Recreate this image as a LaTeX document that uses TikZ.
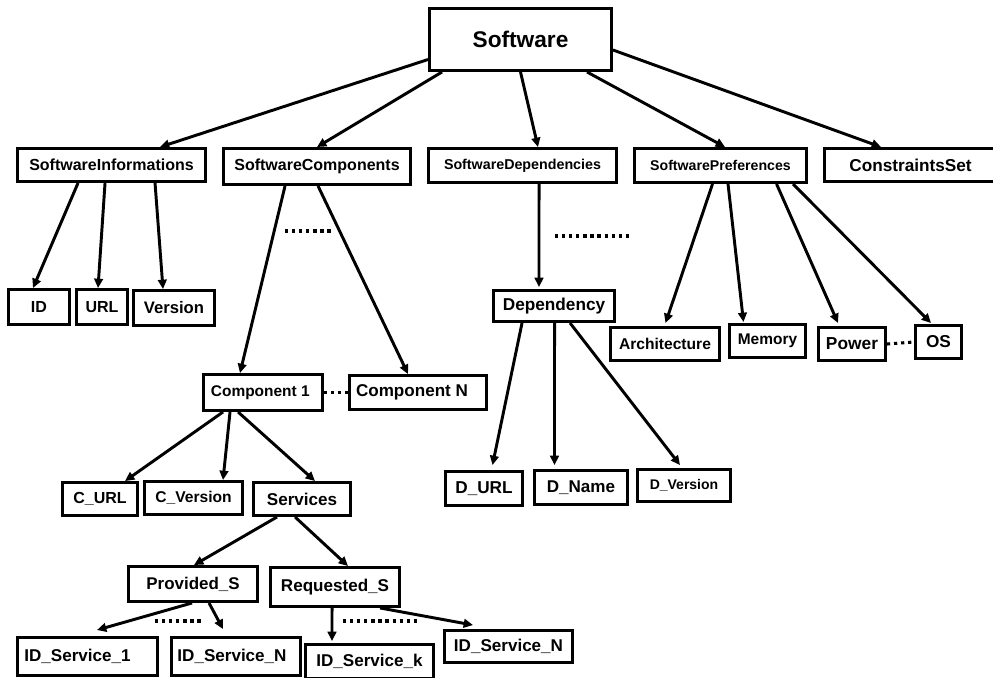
\documentclass[tikz,border=0pt]{standalone}
\usepackage{fontspec}
\setmainfont{Liberation Sans}
\usepackage{tikz}
\usetikzlibrary{arrows.meta,calc}
\tikzset{%
  tipS/.tip={Triangle[length=7pt,width=6.5pt]},
  box/.style={draw, line width=2.2pt, inner sep=0pt, fill=white},
  sz/.style 2 args={minimum width=(#1-3)*0.75pt, minimum height=(#2-3)*0.75pt},
  fs/.style={font=\bfseries\fontsize{#1}{#1}\selectfont},
  arr/.style={line width=2.2pt, -tipS},
  dots/.style={line width=2.3pt, dash pattern=on 2.4pt off 2.9pt}
}

\begin{document}
\begin{tikzpicture}[x=0.75pt,y=-0.75pt]
\useasboundingbox (0,0) rectangle (993,678);
% root
\node[box,sz={185}{65},fs=17] (sw) at (520.5,39.5) {Software};
% second row
\node[box,sz={191}{36},fs=12] (info) at (111.5,165) {SoftwareInformations};
\node[box,sz={190}{39},fs=12] (comp) at (317,166.5) {SoftwareComponents};
\node[box,sz={191}{37},fs=10.7] (dep) at (522.5,165.5) {SoftwareDependencies};
\node[box,sz={175}{37},fs=10.6] (pref) at (720.5,165.5) {SoftwarePreferences};
\node[box,sz={175}{36},fs=12.9] (cons) at (910.5,165) {ConstraintsSet};
% informations
\node[box,sz={64}{38},fs=12] (id) at (39,307) {ID};
\node[box,sz={54}{38},fs=12] (url) at (102,307) {URL};
\node[box,sz={84}{38},fs=12.5] (ver) at (174,308) {Version};
% components
\node[box,sz={122}{39},fs=11.6] (c1) at (263,392.5) {Component 1\hspace*{4pt}};
\node[box,sz={140}{37},fs=12.8] (cN) at (418,392.5) {Component N\hspace*{9pt}};
\node[box,sz={78}{36},fs=12] (curl) at (100,499) {C\_URL};
\node[box,sz={101}{36},fs=11.7] (cver) at (193.5,498) {C\_Version};
\node[box,sz={100}{36},fs=12.8] (serv) at (302,499) {Services};
\node[box,sz={132}{38},fs=12.7] (prov) at (193,584) {Provided\_S};
\node[box,sz={132}{42},fs=12.8] (req) at (335,587) {Requested\_S};
\node[box,sz={143}{41},fs=12.8] (is1) at (87.5,656.5) {ID\_Service\_1\hspace*{15pt}};
\node[box,sz={132}{41},fs=12.8] (isN) at (236,656.5) {ID\_Service\_N\hspace*{6pt}};
\node[box,sz={131}{37},fs=12.8] (isk) at (369.5,661.5) {ID\_Service\_k};
\node[box,sz={131}{35},fs=12.8] (isN2) at (508.5,646.5) {ID\_Service\_N};
% dependencies
\node[box,sz={124}{34},fs=12.9] (depy) at (554,306) {Dependency};
\node[box,sz={80}{37},fs=12.9] (durl) at (484,488.5) {D\_URL};
\node[box,sz={96}{37},fs=12.8] (dname) at (581,487.5) {D\_Name};
\node[box,sz={96}{35},fs=10.5] (dver) at (684,485.5) {D\_Version};
% preferences
\node[box,sz={112}{36},fs=11.7] (arch) at (665,344) {Architecture};
\node[box,sz={79}{36},fs=11.6] (mem) at (767.5,341) {Memory};
\node[box,sz={70}{36},fs=13] (pow) at (852,344) {Power};
\node[box,sz={49}{36},fs=12.9] (os) at (938.5,342) {OS};

% root arrows
\draw[arr] ($(sw.west)+(0,20)$) -- ($(info.north)+(48.5,0)$);
\draw[arr] ($(sw.south west)+(14,0)$) -- (comp.north);
\draw[arr] (sw.south) -- ($(dep.north)+(15.5,0)$);
\draw[arr] ($(sw.south east)+(-26,0)$) -- ($(pref.north)+(4.5,0)$);
\draw[arr] ($(sw.east)+(0,10.5)$) -- ($(cons.north)+(-29.5,0)$);
% informations
\draw[arr] ($(info.south west)+(62,0)$) -- ($(id.north)+(-6,0)$);
\draw[arr] ($(info.south west)+(89,0)$) -- ($(url.north)+(-4,0)$);
\draw[arr] ($(info.south west)+(139,0)$) -- ($(ver.north)+(-11,0)$);
% components
\draw[arr] ($(comp.south west)+(63,0)$) -- ($(c1.north)+(-23,0)$);
\draw[arr] ($(comp.south west)+(96,0)$) -- ($(cN.north)+(-10,0)$);
\draw[dots] ($(comp.south west)+(63,45)$) -- ++(48,0);
\draw[dots] (c1.east) -- (cN.west);
\draw[arr] ($(c1.south west)+(21,0)$) -- ($(curl.north)+(25,0)$);
\draw[arr] ($(c1.south west)+(28,0)$) -- ($(cver.north)+(29.5,0)$);
\draw[arr] ($(c1.south west)+(36,0)$) -- ($(serv.north)+(13,0)$);
\draw[arr] ($(serv.south west)+(25,0)$) -- ($(prov.north)+(1,0)$);
\draw[arr] ($(serv.south west)+(43,0)$) -- ($(req.north)+(13,0)$);
\draw[arr] ($(prov.south west)+(65,0)$) -- ($(is1.north)+(9.5,-6)$);
\draw[arr] ($(prov.south west)+(82,0)$) -- ($(isN.north)+(-13,-7)$);
\draw[dots] ($(prov.south west)+(28,18)$) -- ++(47,0);
\draw[arr] ($(req.south west)+(63,0)$) -- ($(isk.north)+(-37.5,-2)$);
\draw[arr] ($(req.south west)+(111,0)$) -- ($(isN2.north)+(-35.5,-4)$);
\draw[dots] ($(req.south west)+(74,13)$) -- ++(75,0);
% dependencies
\draw[arr] ($(dep.south west)+(112,0)$) -- ($(depy.north)+(-15,-2)$);
\draw[dots] ($(dep.south west)+(128,52)$) -- ++(75,0);
\draw[arr] ($(depy.south west)+(30,0)$) -- ($(durl.north)+(8.5,-5)$);
\draw[arr] ($(depy.south west)+(62.5,0)$) -- ($(dname.north)+(-26.5,-4)$);
\draw[arr] ($(depy.south west)+(78,0)$) -- ($(dver.north)+(-4,-3)$);
% preferences
\draw[arr] ($(pref.south west)+(79.5,0)$) -- ($(arch.north)+(0.5,-3)$);
\draw[arr] ($(pref.south west)+(95,0)$) -- ($(mem.north)+(-24,-1)$);
\draw[arr] ($(pref.south west)+(143.5,0)$) -- ($(pow.north)+(-14,-3)$);
\draw[arr] ($(pref.south west)+(160,0)$) -- ($(os.north)+(-7.5,-1)$);
\draw[dots] (pow.east) -- (os.west);
\end{tikzpicture}
\end{document}
